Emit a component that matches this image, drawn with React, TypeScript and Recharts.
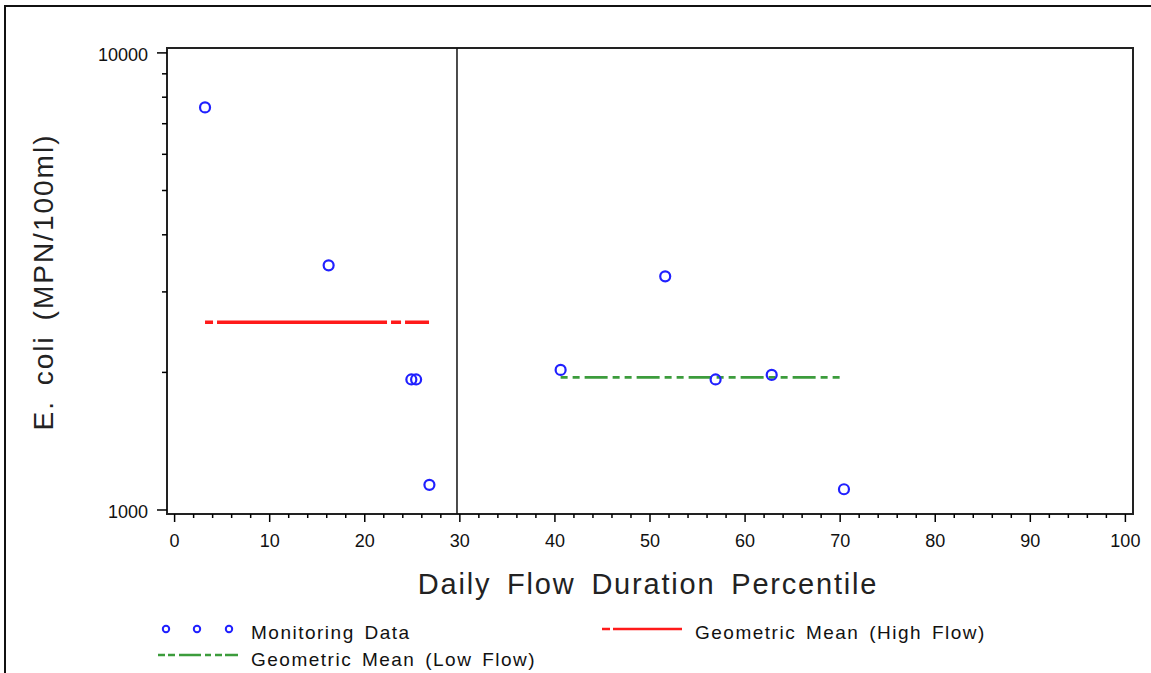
import React from 'react';
import {
  ComposedChart,
  Scatter,
  Line,
  XAxis,
  YAxis,
  ReferenceLine,
  ReferenceArea,
} from 'recharts';

// Monitoring data: flow duration percentile vs. E. coli (MPN/100ml)
const percentiles = [3.2, 16.2, 24.9, 25.4, 26.8, 40.6, 51.6, 56.9, 62.8, 70.4];
const ecoli = [7600, 3430, 1930, 1930, 1135, 2025, 3245, 1930, 1975, 1110];

// Geometric means per flow regime, drawn across the span of each group
const highFlowSpan = [3.2, 26.8];
const highFlowMean = 2575;
const lowFlowSpan = [40.6, 70.2];
const lowFlowMean = 1950;

// Boundary between high and low flow regimes
const flowBreak = 29.7;

const xTicks = [
  0, 2, 4, 6, 8, 10, 12, 14, 16, 18, 20, 22, 24, 26, 28, 30, 32, 34, 36, 38, 40,
  42, 44, 46, 48, 50, 52, 54, 56, 58, 60, 62, 64, 66, 68, 70, 72, 74, 76, 78, 80,
  82, 84, 86, 88, 90, 92, 94, 96, 98, 100,
];
const xLabelTicks = [0, 10, 20, 30, 40, 50, 60, 70, 80, 90, 100];
const yTicks = [1000, 2000, 3000, 4000, 5000, 6000, 7000, 8000, 9000, 10000];
const yLabelTicks = [1000, 10000];

const FONT = '"Liberation Sans", Arial, Helvetica, sans-serif';
const BLUE = '#2020ff';
const RED = '#ff1a1a';
const GREEN = '#3c9c3c';

const points = percentiles.map((x, i) => ({ x, y: ecoli[i] }));
const highFlowLine = highFlowSpan.map((x) => ({ x, y: highFlowMean }));
const lowFlowLine = lowFlowSpan.map((x) => ({ x, y: lowFlowMean }));

const XTick = (props: any) => {
  const { x, y, payload } = props;
  const major = xLabelTicks.includes(payload.value);
  return (
    <g>
      <line x1={x} x2={x} y1={y} y2={y + (major ? 8 : 4)} stroke="#000" strokeWidth={1.5} />
      {major && (
        <text x={x} y={y + 33} textAnchor="middle" fontFamily={FONT} fontSize={18} fill="#111">
          {payload.value}
        </text>
      )}
    </g>
  );
};

const YTick = (props: any) => {
  const { x, y, payload } = props;
  const major = yLabelTicks.includes(payload.value);
  return (
    <g>
      <line x1={x - (major ? 10 : 5)} x2={x} y1={y} y2={y} stroke="#000" strokeWidth={1.5} />
      {major && (
        <text x={x - 19} y={y + 8} textAnchor="end" fontFamily={FONT} fontSize={18} fill="#111">
          {payload.value}
        </text>
      )}
    </g>
  );
};

const Ring = (props: any) => (
  <circle cx={props.cx} cy={props.cy} r={5} fill="none" stroke={BLUE} strokeWidth={2.2} />
);

const XTitle = (props: any) => {
  const vb = props.viewBox || { x: 167, y: 514, width: 966, height: 40 };
  return (
    <text
      x={vb.x + vb.width / 2 - 2}
      y={vb.y + 80}
      textAnchor="middle"
      fontFamily={FONT}
      fontSize={29}
      fill="#222"
      style={{ letterSpacing: '1.8px', wordSpacing: '6px' }}
    >
      Daily Flow Duration Percentile
    </text>
  );
};

const YTitle = (props: any) => {
  const vb = props.viewBox || { x: 0, y: 48, width: 167, height: 466 };
  const cx = vb.x + 43;
  const cy = vb.y + vb.height / 2 + 1;
  return (
    <text
      x={cx}
      y={cy}
      transform={`rotate(-90 ${cx} ${cy})`}
      textAnchor="middle"
      dominantBaseline="central"
      fontFamily={FONT}
      fontSize={28}
      fill="#222"
      style={{ letterSpacing: '2px', wordSpacing: '5px' }}
    >
      E. coli (MPN/100ml)
    </text>
  );
};

const legendText = {
  fontFamily: FONT,
  fontSize: 19,
  fill: '#111',
  style: { letterSpacing: '1.5px', wordSpacing: '3px' },
} as const;

const LegendBlock = () => (
  <svg
    width={1151}
    height={673}
    style={{ position: 'absolute', left: 0, top: 0, pointerEvents: 'none' }}
  >
    {[166, 197, 229].map((cx) => (
      <circle key={cx} cx={cx} cy={629} r={3.2} fill="none" stroke={BLUE} strokeWidth={2} />
    ))}
    <text x={251} y={639} {...legendText}>
      Monitoring Data
    </text>

    <line x1={602} x2={682} y1={629} y2={629} stroke={RED} strokeWidth={2.5} strokeDasharray="8 3 80" />
    <text x={695} y={639} {...legendText}>
      Geometric Mean (High Flow)
    </text>

    <line
      x1={158}
      x2={238}
      y1={655}
      y2={655}
      stroke={GREEN}
      strokeWidth={2.5}
      strokeDasharray="7 3 7 4 22 4 6 4 7 3 13"
    />
    <text x={251} y={666} {...legendText}>
      Geometric Mean (Low Flow)
    </text>
  </svg>
);

export default function App() {
  return (
    <div
      style={{
        position: 'absolute',
        left: 0,
        top: 0,
        width: 1151,
        height: 673,
        background: '#fff',
        overflow: 'hidden',
      }}
    >
      <div
        style={{
          position: 'absolute',
          left: 4,
          top: 5,
          width: 1200,
          height: 700,
          borderTop: '2px solid #111',
          borderLeft: '2px solid #111',
        }}
      />
      <div style={{ position: 'absolute', left: 0, top: 0 }}>
        <ComposedChart
          width={1151}
          height={673}
          margin={{ top: 48, right: 18, bottom: 119, left: 0 }}
        >
          <XAxis
            dataKey="x"
            type="number"
            domain={[-0.8, 100.8]}
            ticks={xTicks}
            interval={0}
            allowDataOverflow
            tick={<XTick />}
            tickLine={false}
            tickSize={0}
            tickMargin={0}
            axisLine={false}
            height={40}
            label={{ content: <XTitle /> }}
          />
          <YAxis
            dataKey="y"
            type="number"
            scale="log"
            domain={[980, 10250]}
            ticks={yTicks}
            interval={0}
            allowDataOverflow
            tick={<YTick />}
            tickLine={false}
            tickSize={0}
            tickMargin={0}
            axisLine={false}
            width={167}
            label={{ content: <YTitle /> }}
          />
          <ReferenceArea
            x1={-0.8}
            x2={100.8}
            y1={980}
            y2={10250}
            fill="none"
            fillOpacity={0}
            stroke="#222"
            strokeWidth={2}
            ifOverflow="visible"
          />
          <ReferenceLine x={flowBreak} stroke="#111" strokeWidth={1.5} />
          <Line
            data={highFlowLine}
            dataKey="y"
            stroke={RED}
            strokeWidth={3.5}
            strokeDasharray="8 4 170 4 10 4 24"
            dot={false}
            activeDot={false}
            isAnimationActive={false}
            name="Geometric Mean (High Flow)"
          />
          <Line
            data={lowFlowLine}
            dataKey="y"
            stroke={GREEN}
            strokeWidth={2.8}
            strokeDasharray="7 5 7 5 23 5"
            dot={false}
            activeDot={false}
            isAnimationActive={false}
            name="Geometric Mean (Low Flow)"
          />
          <Scatter
            data={points}
            dataKey="y"
            shape={<Ring />}
            isAnimationActive={false}
            name="Monitoring Data"
          />
        </ComposedChart>
      </div>
      <LegendBlock />
    </div>
  );
}
